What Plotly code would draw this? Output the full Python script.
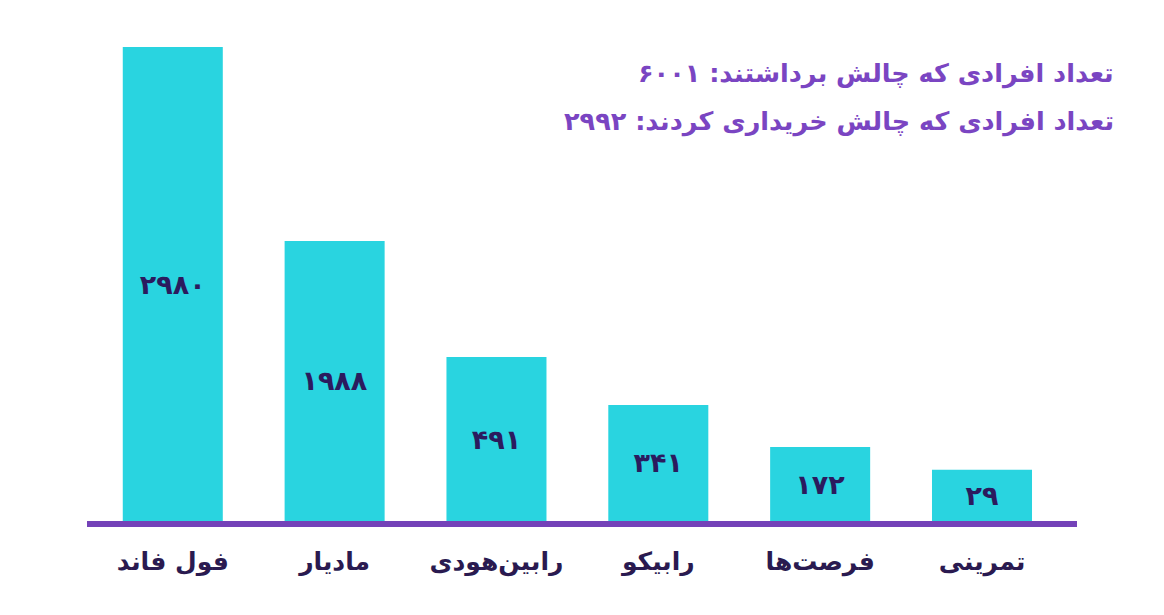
import plotly.graph_objects as go

# Data (left to right as in the picture)
categories = ["فول فاند", "مادیار", "رابین‌هودی", "رابیکو", "فرصت‌ها", "تمرینی"]
counts_label = ["۲۹۸۰", "۱۹۸۸", "۴۹۱", "۳۴۱", "۱۷۲", "۲۹"]
# Drawn bar heights (design heights, largest = 100;
# the original infographic does not draw them proportional to the counts)
bar_heights = [100, 59.1, 34.6, 24.5, 15.6, 10.8]
header_lines = [
    "تعداد افرادی که چالش برداشتند: ۶۰۰۱",
    "تعداد افرادی که چالش خریداری کردند: ۲۹۹۲",
]

FONT = "DejaVu Sans"
BAR_COLOR = "#29D4E0"
LINE_COLOR = "#7442B8"
HEAD_COLOR = "#7A45C2"
NUM_COLOR = "#2B1B5E"
CAT_COLOR = "#2A1A50"

fig = go.Figure(
    go.Bar(
        x=categories,
        y=bar_heights,
        text=counts_label,
        textposition="inside",
        insidetextanchor="middle",
        textangle=0,
        textfont=dict(family=FONT, size=27, color=NUM_COLOR, weight="bold"),
        marker=dict(color=BAR_COLOR, line=dict(width=0)),
        width=0.618,
        hoverinfo="skip",
    )
)

fig.update_layout(
    width=1164,
    height=615,
    margin=dict(l=79, r=95, t=13, b=102),
    paper_bgcolor="white",
    plot_bgcolor="white",
    showlegend=False,
    xaxis=dict(
        type="category",
        range=[-0.53, 5.587],
        showline=True,
        linewidth=6,
        linecolor=LINE_COLOR,
        showgrid=False,
        zeroline=False,
        ticks="",
        tickfont=dict(family=FONT, size=25, color=CAT_COLOR, weight="bold"),
        ticklabelstandoff=13,
        fixedrange=True,
    ),
    yaxis=dict(
        range=[0, 105.5],
        visible=False,
        showgrid=False,
        zeroline=False,
        fixedrange=True,
    ),
)

for line, ypos in zip(header_lines, [0.896, 0.798]):
    fig.add_annotation(
        text=line,
        xref="paper",
        yref="paper",
        x=1.039,
        y=ypos,
        xanchor="right",
        yanchor="middle",
        showarrow=False,
        font=dict(family=FONT, size=25.5, color=HEAD_COLOR, weight="bold"),
    )

fig.write_html("out.html")
